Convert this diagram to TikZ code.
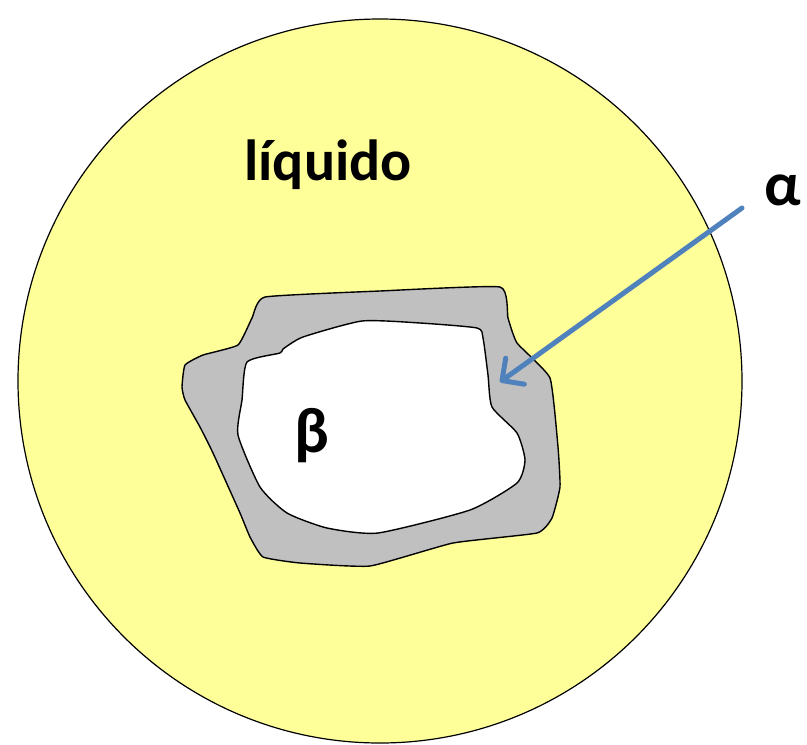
\documentclass[tikz,border=0pt]{standalone}
\usepackage{fontspec}
\setmainfont{Carlito}
\usepackage{xcolor}
\definecolor{liqyellow}{HTML}{FFFF99}
\definecolor{alphagray}{HTML}{C0C0C0}
\definecolor{arrowblue}{HTML}{4F81BD}
\usepackage{tikz}
\usetikzlibrary{arrows.meta, positioning}

\begin{document}
\begin{tikzpicture}[x=1pt, y=-1pt,
  phaseline/.style={draw=black, line width=1.4pt, line join=round},
  alphaarrow/.style={draw=arrowblue, line width=5pt, line cap=round,
    -{Straight Barb[length=16pt, width=32pt, line width=5pt, round]}}]
\useasboundingbox (0,0) rectangle (807,745);
% liquid
\fill[liqyellow] (380,381) circle[radius=362];
\draw[line width=1.2pt] (380,381) circle[radius=362];
% alpha layer
\draw[phaseline, fill=alphagray] plot[smooth cycle, tension=0.25] coordinates {
  (265,297) (380,291) (500,287) (508,318) (517,343) (550,378) (558,447)
  (560,487) (552,518) (537,533) (453,543) (370,566) (300,563) (263,557)
  (250,537) (240,513) (213,453) (200,427) (185,400) (182,387) (185,365)
  (203,355) (238,345) (252,318)};
% beta particle
\draw[phaseline, fill=white] plot[smooth cycle, tension=0.35] coordinates {
  (247,362) (280,353) (283,349) (303,337) (362,321) (420,323) (477,328)
  (483,338) (488,375) (492,407) (517,433) (525,460) (517,483) (470,510)
  (378,533) (327,528) (287,513) (260,487) (238,435) (242,400)};
% labels
\node[font=\bfseries\fontsize{58}{58}\selectfont] (liquido) at (328,165) {líquido};
\node[font=\bfseries\fontsize{64}{64}\selectfont] (beta) at (312,436) {β};
\node[font=\bfseries\fontsize{62}{62}\selectfont] (alpha) at (783,190) {α};
% arrow to the alpha layer
\coordinate (alphatail) at (742,208);
\coordinate (alphatip) at (500,382);
\draw[alphaarrow] (alphatail) -- (alphatip);
\end{tikzpicture}
\end{document}
